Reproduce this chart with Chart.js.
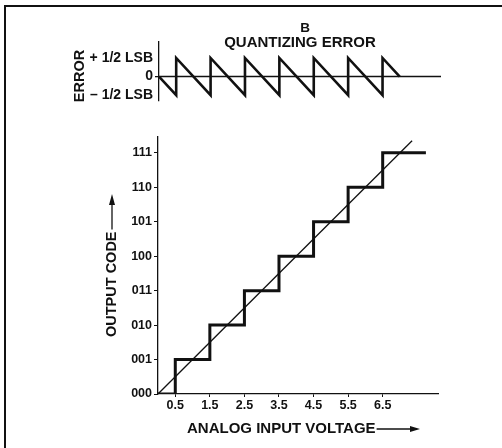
<!DOCTYPE html>
<html>
<head>
<meta charset="utf-8">
<script src="https://cdn.jsdelivr.net/npm/chart.js@4/dist/chart.umd.min.js"></script>
<style>
  html,body{margin:0;padding:0;background:#fff;}
  #wrap{position:relative;width:502px;height:448px;background:#fff;}
  #wrap canvas{position:absolute;left:0;top:0;}
</style>
</head>
<body>
<div id="wrap">
  <canvas id="main" width="502" height="448"></canvas>
  <canvas id="err" width="502" height="448"></canvas>
</div>
<script>
// ---------- data ----------
const codeLabels = ["000","001","010","011","100","101","110","111"];
const codeValues = [0,1,2,3,4,5,6,7];
const voltTicks = [0.5,1.5,2.5,3.5,4.5,5.5,6.5];
const voltLabels = ["0.5","1.5","2.5","3.5","4.5","5.5","6.5"];
// staircase transfer function (output code changes at each x listed)
const stairX = [0,0.5,1.5,2.5,3.5,4.5,5.5,6.5,7.75];
const stairY = [0,1,2,3,4,5,6,7,7];
// ideal straight line
const idealX = [0,7.35];
const idealY = [0,7.35];
// quantizing error sawtooth
const errX = [0,0.5,0.5,1.5,1.5,2.5,2.5,3.5,3.5,4.5,4.5,5.5,5.5,6.5,6.5,7.0];
const errY = [0,-0.5,0.5,-0.5,0.5,-0.5,0.5,-0.5,0.5,-0.5,0.5,-0.5,0.5,-0.5,0.5,0];
const errTicks = [-0.5,0,0.5];
const errLabels = ["\u2013 1/2 LSB","0","+ 1/2 LSB"];
const zeroX = [0,8.2];
const zeroY = [0,0];

const FONT = "'Liberation Sans', Arial, Helvetica, sans-serif";
const INK = "#111";

function pts(xs, ys){ return xs.map((x,i)=>({x:x,y:ys[i]})); }

// ---------- main chart plugin: frame and axis titles with arrows ----------
const mainDeco = {
  id:'mainDeco',
  afterDraw(chart){
    const c = chart.ctx;
    c.save();
    c.strokeStyle = INK; c.fillStyle = INK;
    // frame (top + left)
    c.lineWidth = 2;
    c.beginPath(); c.moveTo(5,6); c.lineTo(502,6); c.stroke();
    c.beginPath(); c.moveTo(5,5); c.lineTo(5,448); c.stroke();
    // x title
    c.font = "bold 15px " + FONT;
    c.textBaseline = 'middle'; c.textAlign = 'left';
    const xt = "ANALOG INPUT VOLTAGE";
    c.fillText(xt, 187, 429);
    const xe = 187 + c.measureText(xt).width + 1;
    c.lineWidth = 1.3;
    c.beginPath(); c.moveTo(xe, 429); c.lineTo(412, 429); c.stroke();
    c.beginPath(); c.moveTo(420,429); c.lineTo(410,426); c.lineTo(410,432); c.closePath(); c.fill();
    // y title (rotated)
    c.translate(112, 337);
    c.rotate(-Math.PI/2);
    c.font = "bold 14.5px " + FONT;
    const yt = "OUTPUT CODE";
    c.fillText(yt, 0, 0);
    const ye = c.measureText(yt).width + 2;
    c.beginPath(); c.moveTo(ye, 0); c.lineTo(134, 0); c.stroke();
    c.beginPath(); c.moveTo(143,0); c.lineTo(132,-3); c.lineTo(132,3); c.closePath(); c.fill();
    c.restore();
  }
};

new Chart(document.getElementById('main'), {
  type:'line',
  data:{
    datasets:[
      { data: pts(idealX, idealY), borderColor:INK, borderWidth:1.3, pointRadius:0, fill:false },
      { data: pts(stairX, stairY), stepped:'before', borderColor:INK, borderWidth:3, pointRadius:0, fill:false, borderJoinStyle:'miter', borderCapStyle:'butt' }
    ]
  },
  options:{
    responsive:false, animation:false,
    layout:{ padding:{ left:0, right:64, top:137, bottom:0 } },
    plugins:{ legend:{display:false}, tooltip:{enabled:false}, title:{display:false} },
    scales:{
      x:{
        type:'linear', min:0, max:8.1,
        afterBuildTicks(s){ s.ticks = voltTicks.map(v=>({value:v})); },
        afterFit(s){ s.height = 54; },
        ticks:{ autoSkip:false, maxRotation:0, padding:1, color:INK,
          font:{ family:FONT, size:12.5, weight:'bold' },
          callback(v){ const i = voltTicks.indexOf(v); return i>=0 ? voltLabels[i] : ''; } },
        grid:{ drawOnChartArea:false, tickLength:3, color:INK, lineWidth:1 },
        border:{ color:INK, width:1.3 }
      },
      y:{
        type:'linear', min:0, max:7.46,
        afterBuildTicks(s){ s.ticks = codeValues.map(v=>({value:v})); },
        afterFit(s){ s.width = 158; },
        ticks:{ autoSkip:false, padding:2, color:INK,
          font:{ family:FONT, size:12.5, weight:'bold' },
          callback(v){ const i = codeValues.indexOf(v); return i>=0 ? codeLabels[i] : ''; } },
        grid:{ drawOnChartArea:false, tickLength:4, color:INK, lineWidth:1 },
        border:{ color:INK, width:1.3 }
      }
    }
  },
  plugins:[mainDeco]
});

// ---------- error chart plugin: titles ----------
const errDeco = {
  id:'errDeco',
  afterDraw(chart){
    const c = chart.ctx;
    c.save();
    c.fillStyle = INK;
    c.textAlign = 'center'; c.textBaseline = 'middle';
    c.font = "bold 13.5px " + FONT;
    c.fillText("B", 305, 28);
    c.font = "bold 15px " + FONT;
    c.fillText("QUANTIZING ERROR", 300, 43);
    c.translate(80, 76);
    c.rotate(-Math.PI/2);
    c.font = "bold 14.5px " + FONT;
    c.fillText("ERROR", 0, 0);
    c.restore();
  }
};

new Chart(document.getElementById('err'), {
  type:'line',
  data:{
    datasets:[
      { data: pts(zeroX, zeroY), borderColor:INK, borderWidth:1.3, pointRadius:0, fill:false },
      { data: pts(errX, errY), borderColor:INK, borderWidth:2.6, pointRadius:0, fill:false, borderJoinStyle:'miter' }
    ]
  },
  options:{
    responsive:false, animation:false,
    layout:{ padding:{ left:0, right:61, top:42, bottom:347 } },
    plugins:{ legend:{display:false}, tooltip:{enabled:false}, title:{display:false} },
    scales:{
      x:{ type:'linear', min:0, max:8.2, display:false },
      y:{
        type:'linear', min:-0.66, max:0.93,
        afterBuildTicks(s){ s.ticks = errTicks.map(v=>({value:v})); },
        afterFit(s){ s.width = 159; },
        ticks:{ autoSkip:false, padding:2, color:INK,
          font:{ family:FONT, size:14, weight:'bold' },
          callback(v){ const i = errTicks.indexOf(v); return i>=0 ? errLabels[i] : ''; } },
        grid:{ drawOnChartArea:false, tickLength:4,
          color(ctx){ return (ctx.tick && ctx.tick.value === 0) ? INK : 'rgba(0,0,0,0)'; }, lineWidth:1.3 },
        border:{ color:INK, width:1.3 }
      }
    }
  },
  plugins:[errDeco]
});
</script>
</body>
</html>
